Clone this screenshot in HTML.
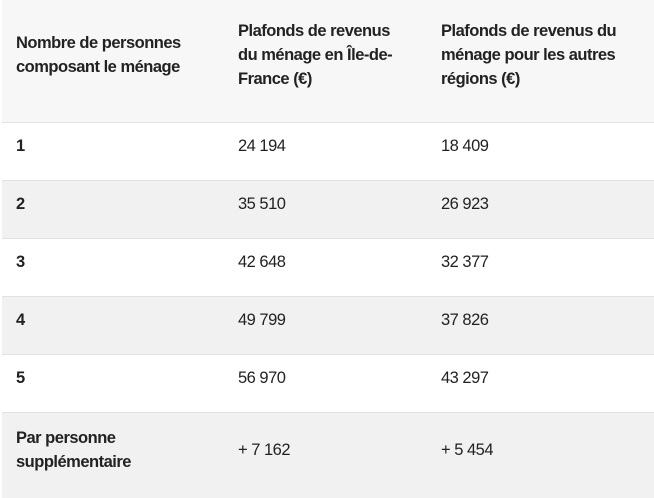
<!DOCTYPE html>
<html><head><meta charset="utf-8"><style>
body{margin:0;width:654px;height:497px;background:#fff;font-family:"Liberation Sans",sans-serif;color:#222;overflow:hidden}
table{position:absolute;left:2px;top:0;width:652px;border-collapse:collapse;font-size:16.5px;letter-spacing:-0.5px;table-layout:fixed}
td,th{padding:0 0 12px 14px;vertical-align:middle;text-align:left;line-height:24px;white-space:nowrap}
th{font-weight:bold;background:#f7f7f7;height:110px}
tr{border-bottom:1px solid #e2e2e2}
tr.r td{height:45px}
tr.g td{background:#f1f1f1}
td.b{font-weight:bold}
</style></head><body>
<table>
<tr>
<th style="width:208px">Nombre de personnes<br>composant le ménage</th>
<th style="width:189px">Plafonds de revenus<br>du ménage en Île-de-<br>France (€)</th>
<th>Plafonds de revenus du<br>ménage pour les autres<br>régions (€)</th></tr>
<tr class="r"><td class="b">1</td><td>24 194</td><td>18 409</td></tr>
<tr class="r g"><td class="b">2</td><td>35 510</td><td>26 923</td></tr>
<tr class="r"><td class="b">3</td><td>42 648</td><td>32 377</td></tr>
<tr class="r g"><td class="b">4</td><td>49 799</td><td>37 826</td></tr>
<tr class="r"><td class="b">5</td><td>56 970</td><td>43 297</td></tr>
<tr class="g" style="border:none"><td class="b" style="height:73px">Par personne<br>supplémentaire</td><td>+ 7 162</td><td>+ 5 454</td></tr>
</table>
</body></html>
